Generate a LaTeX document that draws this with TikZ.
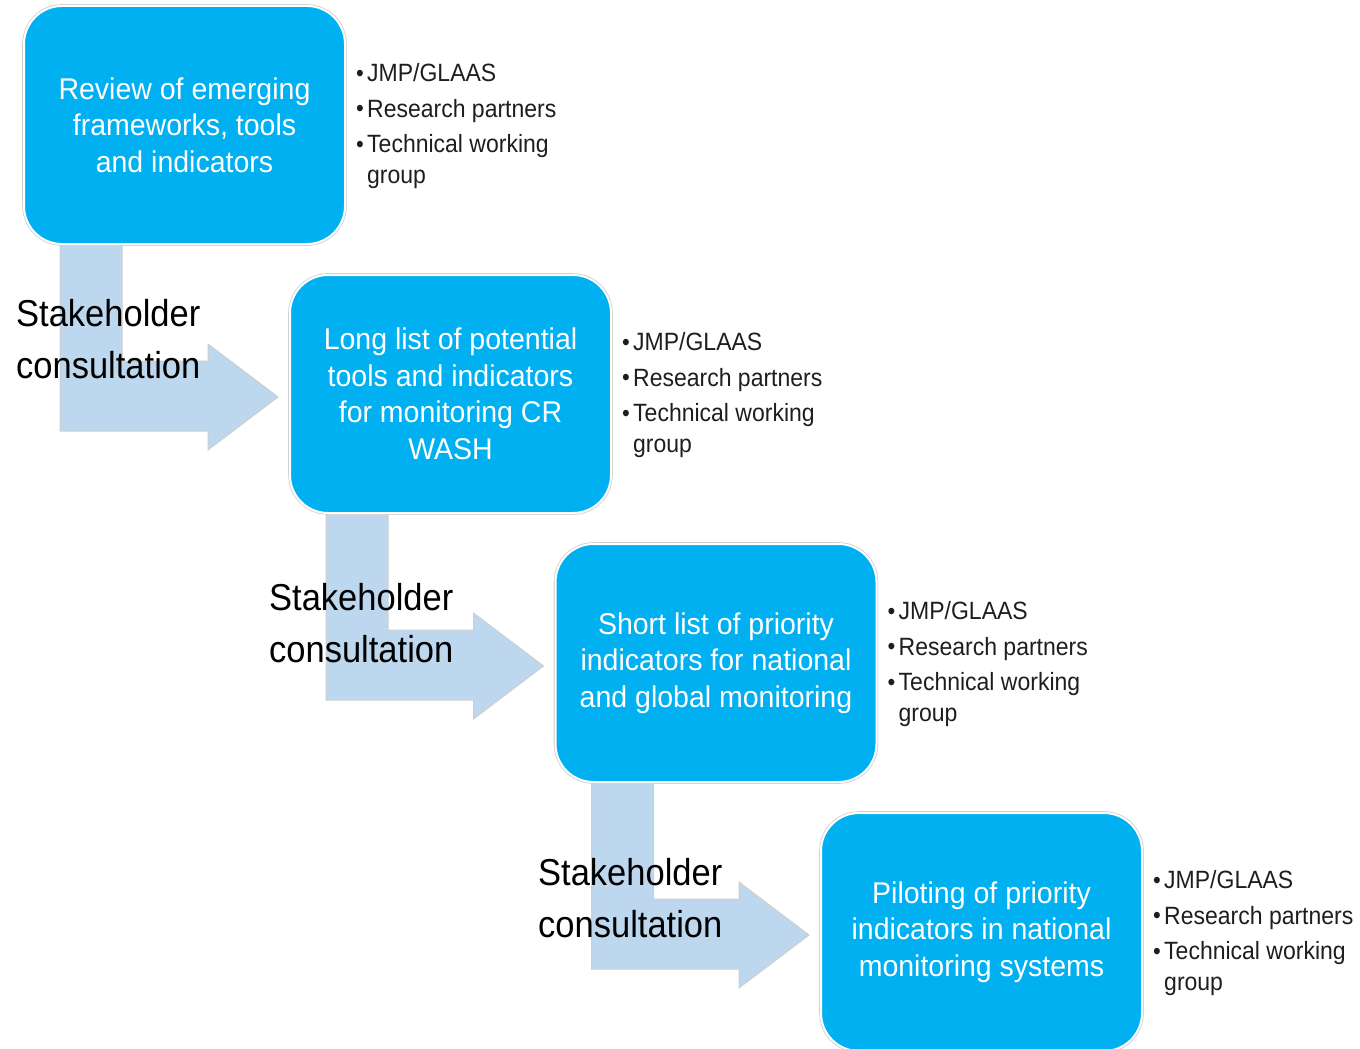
\documentclass[tikz,border=0pt]{standalone}
\usepackage{fontspec}
\setmainfont{Liberation Sans}
\newfontfamily\boxfont{Liberation Sans}[FakeStretch=0.95]
\newfontfamily\consultfont{Liberation Sans}[FakeStretch=0.92]
\newfontfamily\listfont{Liberation Sans}[FakeStretch=0.92]
\usetikzlibrary{calc,backgrounds}

\definecolor{boxblue}{HTML}{00B0F0}
\definecolor{arrowblue}{HTML}{BDD7EE}
\definecolor{rimgray}{HTML}{CFCFCF}
\definecolor{listtext}{HTML}{1E1E1E}

% one bullet line of a partner list
\newcommand\bitem[1]{\makebox[11pt][l]{\raisebox{0.5pt}{\fontsize{24}{24}\selectfont •}}#1}
\newcommand\bcont[1]{\hspace*{11pt}#1}

% bent arrow leaving the bottom of box #1 and pointing at the left side of box #2
\newcommand\bentarrow[2]{%
  \draw[flowarrow]
    ($(#1.south west)+(37,-8)$)
    -- ($(#1.south west |- #2.west)+(37,37)$)
    -- ($(#2.west)+(-81,37)$)
    -- ($(#2.west)+(-81,56)$)
    -- ($(#2.west)+(-11,3)$)
    -- ($(#2.west)+(-81,-50)$)
    -- ($(#2.west)+(-81,-33)$)
    -- ($(#1.south west |- #2.west)+(99,-33)$)
    -- ($(#1.south west)+(99,-8)$)
    -- cycle;}

\begin{document}
\begin{tikzpicture}[x=1pt,y=-1pt,
  stagebox/.style={rectangle, rounded corners=38pt, fill=boxblue,
    preaction={draw=rimgray, line width=3.6pt},
    draw=white, line width=2pt,
    minimum width=321pt, minimum height=238pt, inner sep=0pt,
    text=white, align=center, font=\boxfont\fontsize{30}{36.5}\selectfont},
  partners/.style={anchor=west, inner sep=0pt, align=left, text=listtext,
    font=\listfont\fontsize{25}{30.5}\selectfont},
  consult/.style={anchor=north west, inner sep=0pt, align=left, text=black,
    font=\consultfont\fontsize{37.5}{52.5}\selectfont},
  flowarrow/.style={fill=arrowblue, draw=rimgray, line width=1pt, line join=miter}]

\useasboundingbox (0,0) rectangle (1360,1049);
\clip (0,0) rectangle (1360,1049);

% stages
\node[stagebox] (s1) at (184.5,125) {Review of emerging\\frameworks, tools\\and indicators};
\node[stagebox] (s2) at (450.5,394) {Long list of potential\\tools and indicators\\for monitoring CR\\WASH};
\node[stagebox] (s3) at (716,663) {Short list of priority\\indicators for national\\and global monitoring};
\node[stagebox] (s4) at (981.5,932) {Piloting of priority\\indicators in national\\monitoring systems};

% partners involved at each stage
\foreach \s in {1,2,3,4}{
  \node[partners] (p\s) at ($(s\s.east)+(10,1)$)
    {\bitem{JMP/GLAAS}\\[5pt]\bitem{Research partners}\\[5pt]\bitem{Technical working}\\\bcont{group}};
}

% consultation arrows between stages
\begin{scope}[on background layer]
  \bentarrow{s1}{s2}
  \bentarrow{s2}{s3}
  \bentarrow{s3}{s4}
\end{scope}

\node[consult] (c1) at (16,299) {Stakeholder\\consultation};
\node[consult] (c2) at (269,583) {Stakeholder\\consultation};
\node[consult] (c3) at (538,858) {Stakeholder\\consultation};
\end{tikzpicture}
\end{document}
